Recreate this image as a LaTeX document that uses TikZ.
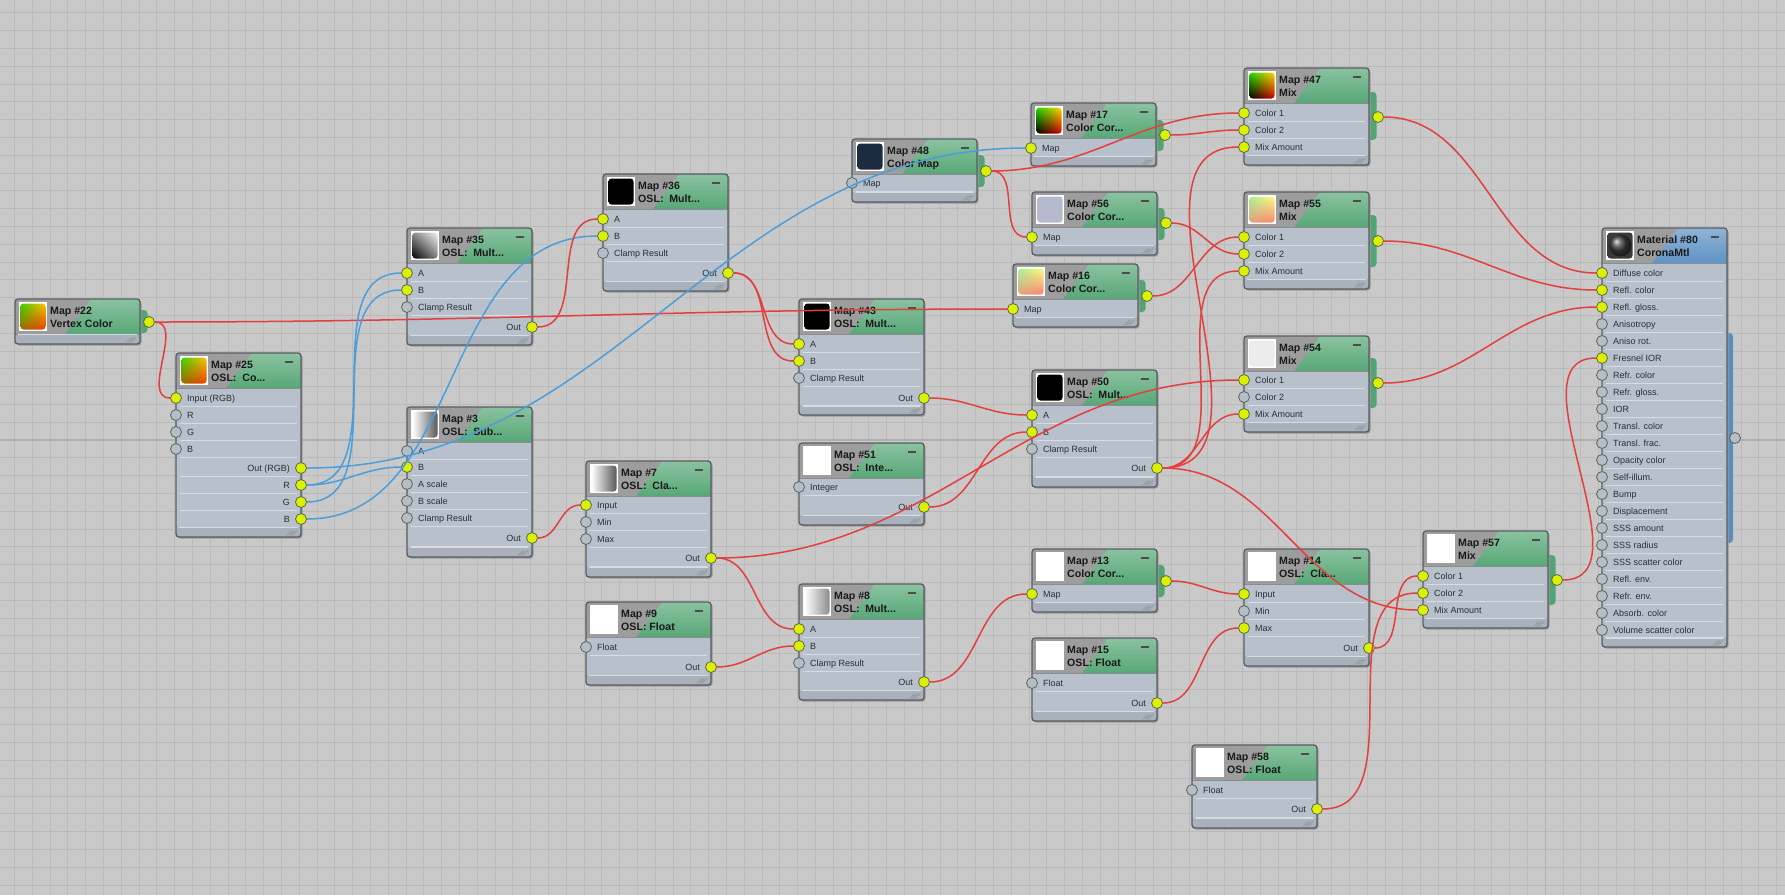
\documentclass[tikz,border=0pt]{standalone}
\usepackage{fontspec}
\setmainfont{Liberation Sans}
\usetikzlibrary{shadings}

% editor colours
\definecolor{bgc}{HTML}{C9C9C9}
\definecolor{gridc}{HTML}{BABABA}
\definecolor{gridmaj}{HTML}{B0B0B0}
\definecolor{bodyc}{HTML}{B8C1CB}
\definecolor{hdgrey}{HTML}{9D9D9D}
\definecolor{hdgreen}{HTML}{58A877}
\definecolor{hdblue}{HTML}{5F93C4}
\definecolor{tabc}{HTML}{52A572}
\definecolor{tabblue}{HTML}{5A8EBF}
\definecolor{framec}{HTML}{585D63}
\definecolor{sepc}{HTML}{D6DCE2}
\definecolor{stripc}{HTML}{A9B2BC}
\definecolor{lit}{HTML}{DAF200}
\definecolor{dim}{HTML}{B4BECA}
\definecolor{sockedge}{HTML}{5E6652}
\definecolor{wirered}{HTML}{E43F3F}
\definecolor{wireblue}{HTML}{4C9EDB}
\definecolor{labelc}{HTML}{2A2E33}
% thumbnail colours
\definecolor{vcg}{HTML}{3CD200}
\definecolor{vcy}{HTML}{FFC400}
\definecolor{vcb}{HTML}{A06A00}
\definecolor{vcr}{HTML}{F03C00}
\definecolor{ccg}{HTML}{20D800}
\definecolor{ccy}{HTML}{FFD400}
\definecolor{ccr}{HTML}{D80000}
\definecolor{pg}{HTML}{A8F098}
\definecolor{py}{HTML}{FFFA80}
\definecolor{pr}{HTML}{FF8070}
\definecolor{navy}{HTML}{1C2B40}
\definecolor{lav}{HTML}{B6BACE}
\definecolor{offw}{HTML}{ECECEC}
\definecolor{darkbg}{HTML}{3A3A3A}

\tikzset{
  wire/.style={line width=1.5pt, draw=wirered, out=0, in=180},
  bwire/.style={wire, draw=wireblue},
  sock/.style={circle, draw=sockedge, line width=0.8pt, minimum size=11pt, inner sep=0pt},
  lbl/.style={font=\fontsize{9}{10}\selectfont, text=labelc, inner sep=0pt},
  ttl/.style={font=\fontsize{10.6}{12}\selectfont\bfseries, text=black!90, inner sep=0pt},
  minusc/.style={line width=1.7pt, draw=black!70},
  thvc/.style={upper left=vcg, upper right=vcy, lower left=vcb, lower right=vcr},
  thcc/.style={upper left=ccg, upper right=ccy, lower left=black, lower right=ccr},
  thpale/.style={upper left=pg, upper right=py, lower left=pr!70!pg, lower right=pr},
  thgrad/.style={upper left=black!45, upper right=white!95!black, lower left=black, lower right=black!50},
  thlr/.style={left color=white, right color=black!65},
  thedge/.style={left color=white, middle color=white, right color=black!45},
  thwhite/.style={top color=white, bottom color=white},
  thblack/.style={top color=black, bottom color=black},
  thnavy/.style={top color=navy, bottom color=navy},
  thlav/.style={top color=lav, bottom color=lav},
  thoffw/.style={top color=offw, bottom color=offw},
  thdark/.style={top color=darkbg, bottom color=darkbg},
}

% box of one map: name, left, top, bottom, title, second line, thumbnail, header colour
\newcommand{\mapbox}[8]{%
  \fill[black!40, rounded corners=3pt] (#2+1.5,#3+1.5) rectangle (#2+126.5,#4+1.5);
  \begin{scope}
    \clip[rounded corners=3pt] (#2,#3) rectangle (#2+125,#4);
    \fill[bodyc] (#2,#3) rectangle (#2+125,#4);
    \shade[top color=#8!70!white, bottom color=#8] (#2,#3) rectangle (#2+125,#3+35);
    \fill[hdgrey] (#2,#3) -- (#2+76,#3) -- (#2+50,#3+35) -- (#2,#3+35) -- cycle;
    \fill[stripc] (#2,#4-10) rectangle (#2+125,#4);
  \end{scope}
  \draw[framec!70!white, line width=0.6pt] (#2,#3+35) -- (#2+125,#3+35);
  \draw[sepc, line width=0.8pt] (#2+3,#4-9.5) -- (#2+122,#4-9.5);
  \draw[sepc!80!black, line width=0.5pt] (#2+3,#4-5.5) -- (#2+122,#4-5.5);
  \foreach \gr in {0,2.5,5}
    \draw[black!45, line width=0.5pt] (#2+111+\gr,#4-1.5) -- (#2+116+\gr,#4-6.5);
  \fill[white] (#2+4,#3+3) rectangle (#2+32,#3+32);
  \shade[#7, rounded corners=3pt] (#2+5.5,#3+4.5) rectangle (#2+30.5,#3+30.5);
  \node[ttl, anchor=base west] (#1-title) at (#2+35,#3+15.5) {#5};
  \node[ttl, anchor=base west] (#1-sub) at (#2+35,#3+28.7) {#6};
  \draw[framec, line width=1.3pt, rounded corners=3pt] (#2,#3) rectangle (#2+125,#4);
  \coordinate (#1-nw) at (#2,#3);
}

% input rows: name, left, list of port/label/y/socket colour
\newcommand{\inports}[3]{%
  \foreach \pn/\lab/\y/\st in {#3} {
    \draw[sepc, line width=0.7pt] (#2+4,\y+8.5) -- (#2+121,\y+8.5);
    \node[lbl, anchor=base west] (#1-\pn-l) at (#2+11,\y+3.2) {\lab};
    \node[sock, fill=\st] (#1-\pn) at (#2,\y) {};
  }
}

% output rows on the right side
\newcommand{\outports}[3]{%
  \foreach \pn/\lab/\y/\st in {#3} {
    \draw[sepc, line width=0.7pt] (#2+4,\y+8.5) -- (#2+121,\y+8.5);
    \node[lbl, anchor=base east] (#1-\pn-l) at (#2+114,\y+3.2) {\lab};
    \node[sock, fill=\st] (#1-\pn) at (#2+125,\y) {};
  }
}

% green output tab: name, right edge, tab top, tab bottom, socket y
\newcommand{\outtab}[5]{%
  \fill[tabc, rounded corners=3.5pt] (#2-8,#3) rectangle (#2+7.5,#4);
  \node[sock, fill=lit] (#1-out) at (#2+9,#5) {};
}

\begin{document}
\begin{tikzpicture}[x=1pt, y=-1pt]
\useasboundingbox (0,0) rectangle (1785,895);

% canvas grid
\fill[bgc] (0,0) rectangle (1785,895);
\foreach \i in {0,...,100}
  \draw[gridc, line width=0.8pt] ({14.3+17.8*\i},0) -- ++(0,895);
\foreach \j in {0,...,50}
  \draw[gridc, line width=0.8pt] (0,{12.8+17.8*\j}) -- ++(1785,0);
% axis lines
\draw[gridmaj, line width=1.3pt] (1545.7,0) -- ++(0,895);
\draw[gridmaj, line width=1.3pt] (0,440) -- ++(1785,0);

% Map #22
\outtab{n22}{140}{310}{333}{322}
\mapbox{n22}{15}{299}{344}{Map \#22}{Vertex Color}{thvc}{hdgreen}

% Map #25
\mapbox{n25}{176}{353}{537}{Map \#25}{OSL:\ \ Co...}{thvc}{hdgreen}
\inports{n25}{176}{in/Input (RGB)/398/lit, r/R/415/dim, g/G/432/dim, b/B/449/dim}
\outports{n25}{176}{oRGB/Out (RGB)/468/lit, oR/R/485/lit, oG/G/502/lit, oB/B/519/lit}

% Map #35
\mapbox{n35}{407}{228}{345}{Map \#35}{OSL:\ \ Mult...}{thgrad}{hdgreen}
\inports{n35}{407}{a/A/273/lit, b/B/290/lit, cl/Clamp Result/307/dim}
\outports{n35}{407}{out/Out/327/lit}

% Map #3
\mapbox{n3}{407}{407}{557}{Map \#3}{OSL:\ \ Sub...}{thlr}{hdgreen}
\inports{n3}{407}{a/A/451/dim, b/B/467/lit, as/A scale/484/dim, bs/B scale/501/dim, cl/Clamp Result/518/dim}
\outports{n3}{407}{out/Out/538/lit}

% Map #36
\mapbox{n36}{603}{174}{291}{Map \#36}{OSL:\ \ Mult...}{thblack}{hdgreen}
\inports{n36}{603}{a/A/219/lit, b/B/236/lit, cl/Clamp Result/253/dim}
\outports{n36}{603}{out/Out/273/lit}

% Map #7
\mapbox{n7}{586}{461}{577}{Map \#7}{OSL:\ \ Cla...}{thlr}{hdgreen}
\inports{n7}{586}{in/Input/505/lit, mn/Min/522/dim, mx/Max/539/dim}
\outports{n7}{586}{out/Out/558/lit}

% Map #9
\mapbox{n9}{586}{602}{685}{Map \#9}{OSL: Float}{thwhite}{hdgreen}
\inports{n9}{586}{fl/Float/647/dim}
\outports{n9}{586}{out/Out/667/lit}

% Map #43
\mapbox{n43}{799}{299}{415}{Map \#43}{OSL:\ \ Mult...}{thblack}{hdgreen}
\inports{n43}{799}{a/A/344/lit, b/B/361/lit, cl/Clamp Result/378/dim}
\outports{n43}{799}{out/Out/398/lit}

% Map #51
\mapbox{n51}{799}{443}{525}{Map \#51}{OSL:\ \ Inte...}{thwhite}{hdgreen}
\inports{n51}{799}{int/Integer/487/dim}
\outports{n51}{799}{out/Out/507/lit}

% Map #8
\mapbox{n8}{799}{584}{700}{Map \#8}{OSL:\ \ Mult...}{thedge}{hdgreen}
\inports{n8}{799}{a/A/629/lit, b/B/646/lit, cl/Clamp Result/663/dim}
\outports{n8}{799}{out/Out/682/lit}

% Map #48
\outtab{n48}{977}{155}{187}{171}
\mapbox{n48}{852}{139}{202}{Map \#48}{Color Map}{thnavy}{hdgreen}
\inports{n48}{852}{map/Map/183/dim}

% Map #17
\outtab{n17}{1156}{120}{151}{135}
\mapbox{n17}{1031}{103}{166}{Map \#17}{Color Cor...}{thcc}{hdgreen}
\inports{n17}{1031}{map/Map/148/lit}

% Map #56
\outtab{n56}{1157}{208}{240}{223}
\mapbox{n56}{1032}{192}{255}{Map \#56}{Color Cor...}{thlav}{hdgreen}
\inports{n56}{1032}{map/Map/237/lit}

% Map #16
\outtab{n16}{1138}{280}{312}{296}
\mapbox{n16}{1013}{264}{327}{Map \#16}{Color Cor...}{thpale}{hdgreen}
\inports{n16}{1013}{map/Map/309/lit}

% Map #50
\mapbox{n50}{1032}{370}{487}{Map \#50}{OSL:\ \ Mult...}{thblack}{hdgreen}
\inports{n50}{1032}{a/A/415/lit, b/B/432/lit, cl/Clamp Result/449/dim}
\outports{n50}{1032}{out/Out/468/lit}

% Map #13
\outtab{n13}{1157}{565}{597}{581}
\mapbox{n13}{1032}{549}{612}{Map \#13}{Color Cor...}{thwhite}{hdgreen}
\inports{n13}{1032}{map/Map/594/lit}

% Map #15
\mapbox{n15}{1032}{638}{721}{Map \#15}{OSL: Float}{thwhite}{hdgreen}
\inports{n15}{1032}{fl/Float/683/dim}
\outports{n15}{1032}{out/Out/703/lit}

% Map #47
\outtab{n47}{1369}{92}{140}{117}
\mapbox{n47}{1244}{68}{165}{Map \#47}{Mix}{thcc}{hdgreen}
\inports{n47}{1244}{c1/Color 1/113/lit, c2/Color 2/130/lit, mix/Mix Amount/147/lit}

% Map #55
\outtab{n55}{1369}{215}{267}{241}
\mapbox{n55}{1244}{192}{289}{Map \#55}{Mix}{thpale}{hdgreen}
\inports{n55}{1244}{c1/Color 1/237/lit, c2/Color 2/254/lit, mix/Mix Amount/271/lit}

% Map #54
\outtab{n54}{1369}{358}{408}{383}
\mapbox{n54}{1244}{336}{432}{Map \#54}{Mix}{thoffw}{hdgreen}
\inports{n54}{1244}{c1/Color 1/380/lit, c2/Color 2/397/dim, mix/Mix Amount/414/lit}

% Map #14
\mapbox{n14}{1244}{549}{666}{Map \#14}{OSL:\ \ Cla...}{thwhite}{hdgreen}
\inports{n14}{1244}{in/Input/594/lit, mn/Min/611/dim, mx/Max/628/lit}
\outports{n14}{1244}{out/Out/648/lit}

% Map #57
\outtab{n57}{1548}{555}{605}{580}
\mapbox{n57}{1423}{531}{628}{Map \#57}{Mix}{thwhite}{hdgreen}
\inports{n57}{1423}{c1/Color 1/576/lit, c2/Color 2/593/lit, mix/Mix Amount/610/lit}

% Map #58
\mapbox{n58}{1192}{745}{828}{Map \#58}{OSL: Float}{thwhite}{hdgreen}
\inports{n58}{1192}{fl/Float/790/dim}
\outports{n58}{1192}{out/Out/809/lit}

% Material #80
\fill[tabblue, rounded corners=3.5pt] (1718,333) rectangle (1733,543);
\node[sock, fill=dim] (n80-out) at (1735,438) {};
\mapbox{n80}{1602}{228}{647}{Material \#80}{CoronaMtl}{thdark}{hdblue}
\shade[ball color=black!75] (1620.5,245.5) circle (11);
\inports{n80}{1602}{diff/Diffuse color/273/lit, rcol/Refl. color/290/lit, rgl/Refl. gloss./307/lit,
  ani/Anisotropy/324/dim, anr/Aniso rot./341/dim, fior/Fresnel IOR/358/lit,
  frc/Refr. color/375/dim, frg/Refr. gloss./392/dim, ior/IOR/409/dim,
  tlc/Transl. color/426/dim, tlf/Transl. frac./443/dim, opc/Opacity color/460/dim,
  self/Self-illum./477/dim, bump/Bump/494/dim, disp/Displacement/511/dim,
  ssa/SSS amount/528/dim, ssr/SSS radius/545/dim, sssc/SSS scatter color/562/dim,
  rfle/Refl. env./579/dim, rfre/Refr. env./596/dim, abs/Absorb. color/613/dim,
  vol/Volume scatter color/630/dim}

% collapse marks
\foreach \n in {n25,n35,n3,n36,n7,n9,n43,n51,n8,n48,n17,n56,n16,n50,n13,n15,n47,n55,n54,n14,n57,n58,n80}
  \draw[minusc] ([shift={(109,9)}]\n-nw) -- ++(8,0);

% wires
\draw[wire] (n22-out) to (n25-in);
\draw[wire] (n22-out) to (n16-map);
\draw[bwire] (n25-oRGB) to (n17-map);
\draw[bwire] (n25-oR) to (n35-a);
\draw[bwire] (n25-oR) to (n3-b);
\draw[bwire] (n25-oG) to (n35-b);
\draw[bwire] (n25-oB) to (n36-b);
\draw[wire] (n35-out) to (n36-a);
\draw[wire] (n36-out) to (n43-a);
\draw[wire] (n36-out) to (n43-b);
\draw[wire] (n3-out) to (n7-in);
\draw[wire] (n7-out) to (n8-a);
\draw[wire] (n7-out) to (n54-c1);
\draw[wire] (n9-out) to (n8-b);
\draw[wire] (n43-out) to (n50-a);
\draw[wire] (n51-out) to (n50-b);
\draw[wire] (n8-out) to (n13-map);
\draw[wire] (n48-out) to (n47-c1);
\draw[wire] (n48-out) to (n56-map);
\draw[wire] (n17-out) to (n47-c2);
\draw[wire] (n16-out) to (n55-c1);
\draw[wire] (n56-out) to (n55-c2);
\foreach \t in {n47-mix, n55-mix, n54-mix, n57-mix}
  \draw[wire] (n50-out) to (\t);
\draw[wire] (n13-out) to (n14-in);
\draw[wire] (n15-out) to (n14-mx);
\draw[wire] (n14-out) to (n57-c1);
\draw[wire] (n58-out) to (n57-c2);
\draw[wire] (n47-out) to (n80-diff);
\draw[wire] (n55-out) to (n80-rcol);
\draw[wire] (n54-out) to (n80-rgl);
\draw[wire] (n57-out) to (n80-fior);
\end{tikzpicture}
\end{document}
